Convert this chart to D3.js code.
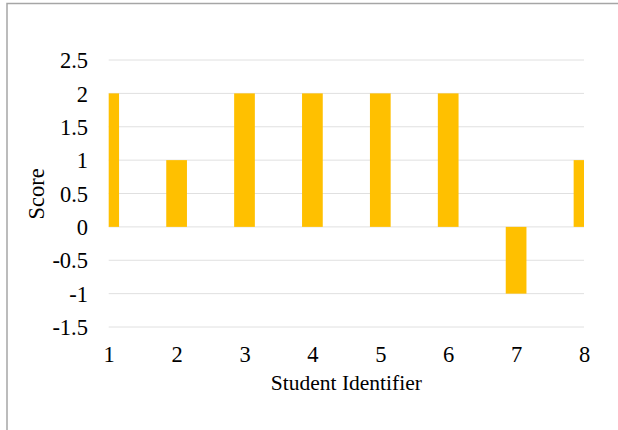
<!DOCTYPE html>
<html>
<head>
<meta charset="utf-8">
<script src="https://cdn.jsdelivr.net/npm/d3@7"></script>
<style>
  html, body { margin: 0; padding: 0; background: #fff; }
  svg { display: block; }
  text { font-family: "Liberation Serif", "Times New Roman", serif; fill: #000; }
</style>
</head>
<body>
<svg id="chart" width="618" height="430"></svg>
<script>
const categories = [1, 2, 3, 4, 5, 6, 7, 8];
const scores = [2, 1, 2, 2, 2, 2, -1, 1];
const yTicks = [-1.5, -1, -0.5, 0, 0.5, 1, 1.5, 2, 2.5];
const xTitle = "Student Identifier";
const yTitle = "Score";

const svg = d3.select("#chart");
const W = 618, H = 430;
const plot = { left: 108.7, right: 584, top: 60, bottom: 327 };
const FS_TICK = 22.5;
const FS_TITLE = 21.5;

// outer border
svg.append("rect")
  .attr("x", 7).attr("y", 3.5)
  .attr("width", 700).attr("height", 600)
  .attr("fill", "#fff")
  .attr("stroke", "#a6a6a6").attr("stroke-width", 1.5);

const x = d3.scaleLinear().domain([1, 8]).range([plot.left, plot.right]);
const y = d3.scaleLinear().domain([-1.5, 2.5]).range([plot.bottom, plot.top]);

const step = x(2) - x(1);
const barW = step * 0.305;

// gridlines
svg.append("g")
  .selectAll("line")
  .data(yTicks)
  .join("line")
  .attr("x1", plot.left).attr("x2", plot.right)
  .attr("y1", d => y(d)).attr("y2", d => y(d))
  .attr("stroke", "#e0e0e0").attr("stroke-width", 1);

// clip
svg.append("clipPath").attr("id", "plotclip")
  .append("rect")
  .attr("x", plot.left).attr("y", 0)
  .attr("width", plot.right - plot.left).attr("height", H);

// bars
svg.append("g").attr("clip-path", "url(#plotclip)")
  .selectAll("rect")
  .data(categories.map((c, i) => ({ c, v: scores[i] })))
  .join("rect")
  .attr("x", d => x(d.c) - barW / 2)
  .attr("width", barW)
  .attr("y", d => y(Math.max(0, d.v)))
  .attr("height", d => Math.abs(y(d.v) - y(0)))
  .attr("fill", "#ffc000");

// y axis labels
const yAxis = d3.axisLeft(y).tickValues(yTicks).tickSize(0).tickPadding(0)
  .tickFormat(d => String(d));
const gy = svg.append("g").attr("transform", `translate(88,0)`).call(yAxis)
  .attr("font-size", FS_TICK).attr("font-family", null);
gy.select(".domain").remove();
gy.selectAll("text").attr("font-size", FS_TICK)
  .attr("dy", "0.34em").attr("fill", "#000");

// x axis labels
const xAxis = d3.axisBottom(x).tickValues(categories).tickSize(0).tickPadding(0)
  .tickFormat(d => String(d));
const gx = svg.append("g").attr("transform", `translate(0,345.5)`).call(xAxis)
  .attr("font-size", FS_TICK).attr("font-family", null);
gx.select(".domain").remove();
gx.selectAll("text").attr("font-size", FS_TICK)
  .attr("dy", "0.75em").attr("fill", "#000");

// axis titles
svg.append("text")
  .attr("x", (plot.left + plot.right) / 2)
  .attr("y", 390)
  .attr("text-anchor", "middle")
  .attr("font-size", FS_TITLE)
  .text(xTitle);

svg.append("text")
  .attr("transform", `translate(44,194) rotate(-90)`)
  .attr("text-anchor", "middle")
  .attr("font-size", FS_TICK)
  .text(yTitle);
</script>
</body>
</html>
